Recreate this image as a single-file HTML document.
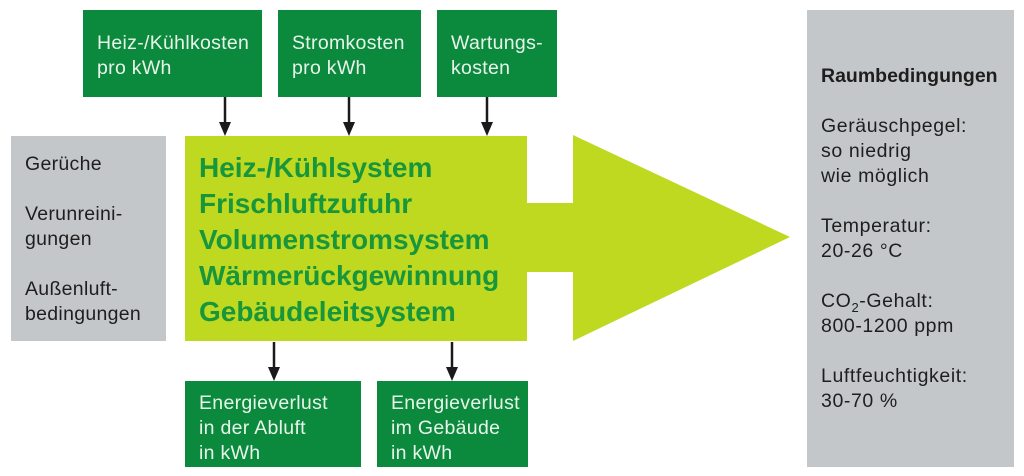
<!DOCTYPE html>
<html><head><meta charset="utf-8"><style>
body{margin:0;width:1024px;height:476px;background:#fff;position:relative;overflow:hidden;font-family:"Liberation Sans",sans-serif}
.b{position:absolute;box-sizing:border-box}
.g{background:#0b8a3e;color:#e8f5ea;font-size:19.5px;line-height:25px;padding:21px 0 0 14px;white-space:nowrap;overflow:hidden;letter-spacing:0.3px}
.gr{background:#c4c7ca}
.t{position:absolute;white-space:nowrap}
</style></head><body>
<div class="b g" style="left:83px;top:10px;width:179px;height:87px">Heiz-/Kühlkosten<br>pro kWh</div>
<div class="b g" style="left:278px;top:10px;width:143px;height:87px">Stromkosten<br>pro kWh</div>
<div class="b g" style="left:437px;top:10px;width:120px;height:87px">Wartungs-<br>kosten</div>
<div class="b g" style="left:185px;top:381px;width:176px;height:86px;padding-top:10px">Energieverlust<br>in der Abluft<br>in kWh</div>
<div class="b g" style="left:377px;top:381px;width:151px;height:86px;padding-top:10px">Energieverlust<br>im Gebäude<br>in kWh</div>
<div class="b gr" style="left:11px;top:136px;width:155px;height:205px"></div>
<div class="t" style="left:25px;top:152px;font-size:19.5px;line-height:25px;color:#1e1e1e;letter-spacing:0.3px">Gerüche<br><br>Verunreini-<br>gungen<br><br>Außenluft-<br>bedingungen</div>
<div class="b gr" style="left:807px;top:10px;width:207px;height:457px"></div>
<div class="t" style="left:821px;top:64px;font-size:19.5px;line-height:25px;color:#1e1e1e;letter-spacing:0.6px"><b style="letter-spacing:0">Raumbedingungen</b><br><br>Geräuschpegel:<br>so niedrig<br>wie möglich<br><br>Temperatur:<br>20-26 °C<br><br>CO<sub style="font-size:13px;line-height:0">2</sub>-Gehalt:<br>800-1200 ppm<br><br>Luftfeuchtigkeit:<br>30-70 %</div>
<svg class="b" style="left:0;top:0" width="1024" height="476">
<polygon points="185,136 527,136 527,203 573,203 573,135 790,237 573,341 573,272 527,272 527,341 185,341" fill="#bfd920"/>
<g stroke="#1a1a1a" stroke-width="2.5" fill="#1a1a1a">
<line x1="225" y1="97" x2="225" y2="126"/><polygon points="219,122 231,122 225,136" stroke="none"/>
<line x1="349" y1="97" x2="349" y2="126"/><polygon points="343,122 355,122 349,136" stroke="none"/>
<line x1="487" y1="97" x2="487" y2="126"/><polygon points="481,122 493,122 487,136" stroke="none"/>
<line x1="274" y1="342" x2="274" y2="371"/><polygon points="268,367 280,367 274,381" stroke="none"/>
<line x1="452" y1="342" x2="452" y2="371"/><polygon points="446,367 458,367 452,381" stroke="none"/>
</g></svg>
<div class="t" style="left:199px;top:150px;font-size:28px;line-height:36px;font-weight:bold;color:#17963c">Heiz-/Kühlsystem<br>Frischluftzufuhr<br>Volumenstromsystem<br>Wärmerückgewinnung<br>Gebäudeleitsystem</div>
</body></html>
